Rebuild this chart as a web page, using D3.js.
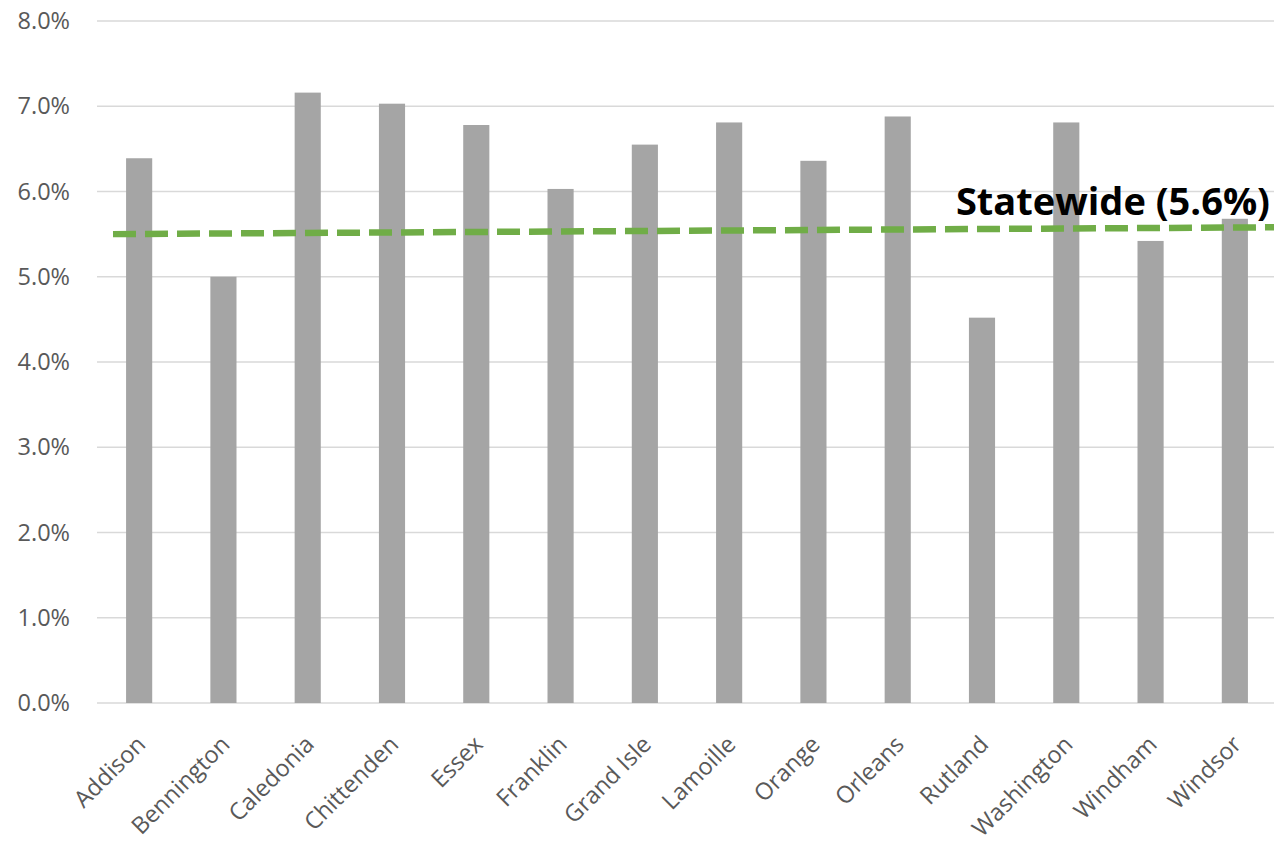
<!DOCTYPE html>
<meta charset="utf-8">
<script src="https://d3js.org/d3.v7.min.js"></script>
<style>
  body { margin: 0; background: #fff; }
</style>
<div id="chart"></div>
<script>
// county values (percent)
var counties = ["Addison", "Bennington", "Caledonia", "Chittenden", "Essex", "Franklin", "Grand Isle",
  "Lamoille", "Orange", "Orleans", "Rutland", "Washington", "Windham", "Windsor"];
var rates = [6.39, 5.00, 7.16, 7.03, 6.78, 6.03, 6.55, 6.81, 6.36, 6.88, 4.52, 6.81, 5.42, 5.68];
var yTicks = [0, 1, 2, 3, 4, 5, 6, 7, 8];
// statewide reference line, left end and right end (slightly tilted in the original)
var statewide = [5.50, 5.58];
var statewideLabel = "Statewide (5.6%)";

var W = 1274, H = 862;
var plotLeft = 97, plotRight = 1277, plotTop = 21, plotBottom = 703;

var svg = d3.select("#chart").append("svg")
  .attr("width", W)
  .attr("height", H);

var x = d3.scaleBand()
  .domain(counties)
  .range([plotLeft, plotRight])
  .paddingInner(0.69)
  .paddingOuter(0.345);

var y = d3.scaleLinear()
  .domain([0, 8])
  .range([plotBottom, plotTop]);

// gridlines
svg.append("g")
  .selectAll("line")
  .data(yTicks)
  .enter().append("line")
  .attr("x1", plotLeft)
  .attr("x2", W)
  .attr("y1", d => y(d))
  .attr("y2", d => y(d))
  .attr("stroke", "#d9d9d9")
  .attr("stroke-width", 1.5);

// y tick labels
svg.append("g")
  .selectAll("text")
  .data(yTicks)
  .enter().append("text")
  .attr("x", 70)
  .attr("y", d => y(d))
  .attr("dy", "0.35em")
  .attr("text-anchor", "end")
  .style("font-family", "'Open Sans', sans-serif")
  .style("font-size", "23.5px")
  .style("fill", "#595959")
  .text(d => d3.format(".1f")(d) + "%");

// bars
svg.append("g")
  .selectAll("rect")
  .data(counties)
  .enter().append("rect")
  .attr("x", d => x(d))
  .attr("width", x.bandwidth())
  .attr("y", (d, i) => y(rates[i]))
  .attr("height", (d, i) => y(0) - y(rates[i]))
  .attr("fill", "#a5a5a5");

// x labels
svg.append("g")
  .selectAll("text")
  .data(counties)
  .enter().append("text")
  .attr("transform", d => "translate(" + (x(d) + x.bandwidth() / 2 + 2) + ",740) rotate(-45)")
  .attr("text-anchor", "end")
  .attr("dy", "0.35em")
  .style("font-family", "'Open Sans', sans-serif")
  .style("font-size", "23.5px")
  .style("fill", "#595959")
  .text(d => d);

// statewide dashed line
var lx = d3.scaleLinear().domain([0, 1]).range([113, W]);
svg.append("path")
  .datum(statewide)
  .attr("d", d3.line().x((d, i) => lx(i)).y(d => y(d)))
  .attr("fill", "none")
  .attr("stroke", "#70ad47")
  .attr("stroke-width", 6.5)
  .attr("stroke-dasharray", "23,9");

svg.append("text")
  .attr("x", 1270)
  .attr("y", 215)
  .attr("text-anchor", "end")
  .style("font-family", "'Open Sans', sans-serif")
  .style("font-weight", "bold")
  .style("font-size", "38px")
  .style("fill", "#000")
  .text(statewideLabel);
</script>
